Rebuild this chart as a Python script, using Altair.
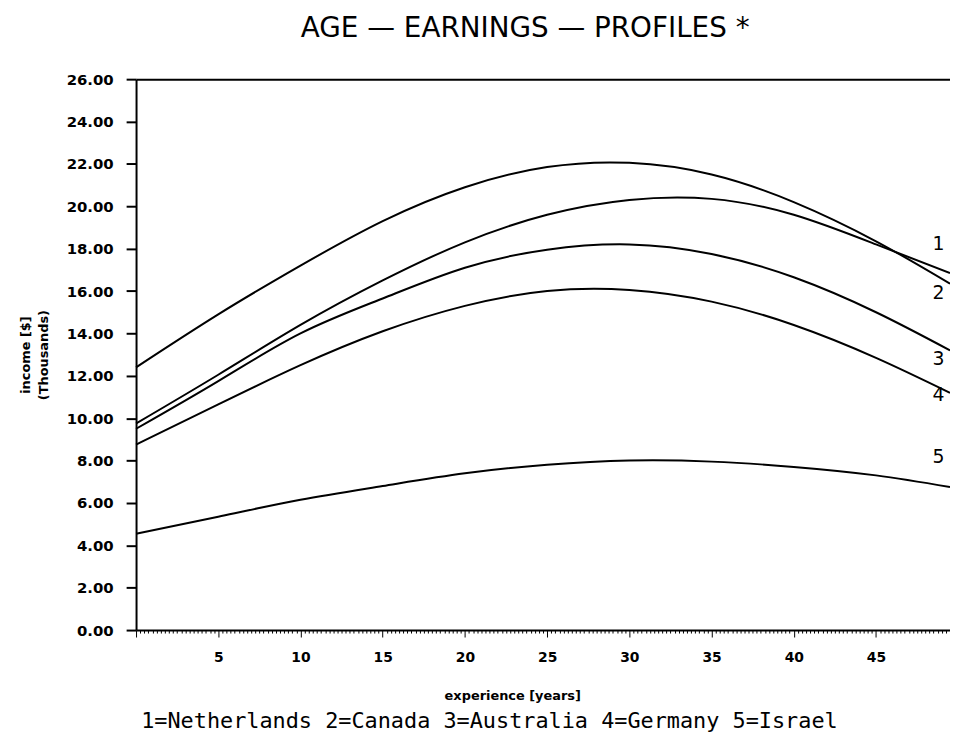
import altair as alt
import pandas as pd

# ---- data ----
experience = [0, 5, 10, 15, 20, 25, 30, 35, 40, 45, 49.5]
netherlands = [12.4, 14.9, 17.2, 19.3, 20.9, 21.85, 22.05, 21.5, 20.2, 18.35, 16.35]
canada = [9.75, 12.05, 14.4, 16.5, 18.3, 19.6, 20.3, 20.35, 19.6, 18.2, 16.85]
australia = [9.5, 11.75, 14.0, 15.65, 17.1, 17.95, 18.2, 17.75, 16.65, 15.0, 13.2]
germany = [8.75, 10.65, 12.5, 14.1, 15.3, 16.0, 16.05, 15.5, 14.4, 12.85, 11.2]
israel = [4.55, 5.35, 6.15, 6.8, 7.4, 7.8, 8.0, 7.95, 7.7, 7.3, 6.75]

countries = ["Netherlands", "Canada", "Australia", "Germany", "Israel"]
series = [netherlands, canada, australia, germany, israel]

curve_labels = ["1", "2", "3", "4", "5"]
curve_label_x = [48.8, 48.8, 48.8, 48.8, 48.8]
curve_label_y = [18.2, 15.9, 12.8, 11.1, 8.15]

y_ticks = [0, 2, 4, 6, 8, 10, 12, 14, 16, 18, 20, 22, 24, 26]
x_minor_ticks = [i * 0.25 for i in range(199)]

title_text = "AGE — EARNINGS — PROFILES *"
x_title = "experience [years]"
y_title = ["income [$]", "(Thousands)"]
legend_text = ["1=Netherlands 2=Canada 3=Australia 4=Germany 5=Israel"]

rows = []
for name, vals in zip(countries, series):
    for x, y in zip(experience, vals):
        rows.append({"country": name, "experience": x, "income": y})
df = pd.DataFrame(rows)
lab_df = pd.DataFrame({"experience": curve_label_x, "income": curve_label_y, "t": curve_labels})
leg_df = pd.DataFrame({"t": legend_text})

W, H = 820, 555
xscale = alt.Scale(domain=[0, 49.5], nice=False, zero=False)
yscale = alt.Scale(domain=[0, 26], nice=False)

yaxis = alt.Axis(
    values=y_ticks, format=".2f", title=y_title,
    labelFont="DejaVu Sans", labelFontWeight="bold", labelFontSize=15, labelColor="black",
    labelPadding=13, tickSize=10, tickWidth=2, tickColor="black",
    domainColor="black", domainWidth=2, grid=False,
    titleFont="DejaVu Sans", titleFontWeight="bold", titleFontSize=13, titleColor="black",
    titleLineHeight=18, titlePadding=16,
)
xaxis = alt.Axis(
    values=x_minor_ticks, title=x_title,
    labelExpr="(datum.value % 5 === 0 && datum.value > 0) ? datum.value : ''",
    labelOverlap=False, labelFlush=False,
    labelFont="DejaVu Sans", labelFontWeight="bold", labelFontSize=14, labelColor="black",
    labelPadding=14,
    tickSize={"condition": {"test": "datum.value % 5 === 0", "value": 7}, "value": 3},
    tickWidth=1, tickColor="black", domainColor="black", domainWidth=2, grid=False,
    titleFont="DejaVu Sans", titleFontWeight="bold", titleFontSize=13, titleColor="black",
    titleX=379, titleY=70, titleBaseline="alphabetic", titleAnchor="start", titleAlign="center",
)
top_axis = alt.Axis(orient="top", labels=False, ticks=False, domain=True, domainWidth=2,
                    domainColor="black", title=None, grid=False)

lines = alt.Chart(df).mark_line(color="black", strokeWidth=2, interpolate="natural").encode(
    x=alt.X("experience:Q", scale=xscale, axis=xaxis),
    y=alt.Y("income:Q", scale=yscale, axis=yaxis),
    detail="country:N",
)

labels = alt.Chart(lab_df).mark_text(
    font="DejaVu Sans", fontSize=19, color="black", align="center", baseline="middle"
).encode(
    x=alt.X("experience:Q", scale=xscale, axis=top_axis),
    y=alt.Y("income:Q", scale=yscale, axis=yaxis),
    text="t:N",
)

legend = alt.Chart(leg_df).mark_text(
    font="DejaVu Sans Mono", fontSize=22, color="black", align="center", baseline="middle"
).encode(
    x=alt.value(356), y=alt.value(H + 92), text="t:N"
)

chart = alt.layer(lines, labels, legend).resolve_axis(x="independent").properties(
    width=W, height=H,
    title=alt.Title(title_text, font="DejaVu Sans", fontSize=28, fontWeight="normal",
                    color="black", anchor="middle", frame="group", dx=-18, offset=29),
    autosize=alt.AutoSizeParams(type="none"),
    padding={"left": 129, "top": 69, "right": 0, "bottom": 100},
).configure_view(stroke=None).configure(background="white")

chart.save("out.html", embed_options={"renderer": "svg", "actions": False})
